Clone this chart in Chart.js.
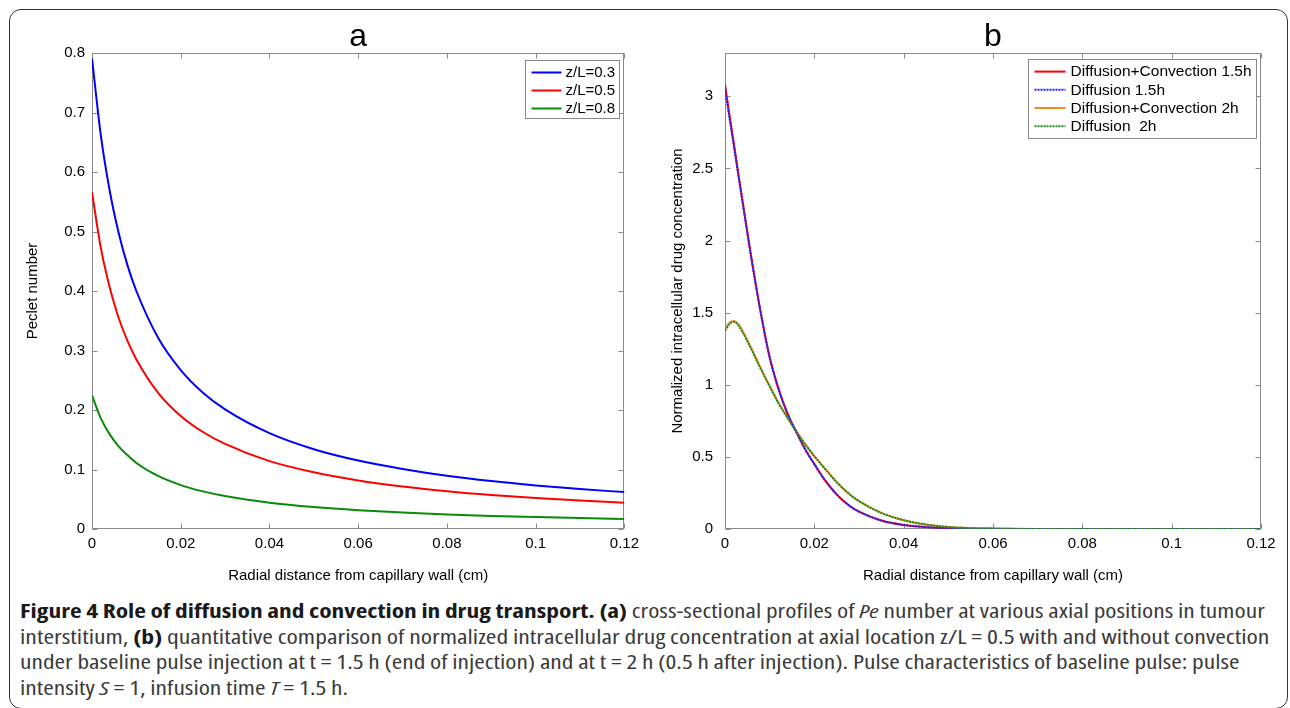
<!DOCTYPE html>
<html>
<head>
<meta charset="utf-8">
<script src="https://cdn.jsdelivr.net/npm/chart.js@4.4.0/dist/chart.umd.min.js"></script>
<style>
  html, body { margin:0; padding:0; background:#fff; }
  body { width:1290px; height:708px; position:relative; overflow:hidden; }
  #frame { position:absolute; left:9px; top:9px; width:1279px; height:700px; border:1.5px solid #333; border-radius:12px; box-sizing:border-box; }
  canvas { position:absolute; top:0; }
  #ca { left:0; }
  #cb { left:645px; }
  .cap { position:absolute; left:20px; white-space:nowrap; font-family:"Open Sans","Liberation Sans Narrow",sans-serif; font-stretch:75%; font-size:19px; line-height:26px; color:#3a3a3a; transform-origin:0 50%; }
  .cap b { color:#1a1a1a; }
</style>
</head>
<body>
<div id="frame"></div>
<canvas id="ca" width="645" height="595"></canvas>
<canvas id="cb" width="645" height="595"></canvas>
<div class="cap" id="l1" style="top:598px"><b>Figure 4 Role of diffusion and convection in drug transport. (a)</b> cross-sectional profiles of <i>Pe</i> number at various axial positions in tumour</div>
<div class="cap" id="l2" style="top:624px">interstitium, <b>(b)</b> quantitative comparison of normalized intracellular drug concentration at axial location z/L = 0.5 with and without convection</div>
<div class="cap" id="l3" style="top:649px">under baseline pulse injection at t = 1.5 h (end of injection) and at t = 2 h (0.5 h after injection). Pulse characteristics of baseline pulse: pulse</div>
<div class="cap" id="l4" style="top:675px">intensity <i>S</i> = 1, infusion time <i>T</i> = 1.5 h.</div>
<script>
// ---------- Data: panel a (Peclet number) ----------
const peX     = [0, 0.002, 0.004, 0.006, 0.008, 0.01, 0.015, 0.02, 0.025, 0.03, 0.04, 0.05, 0.06, 0.07, 0.08, 0.09, 0.1, 0.11, 0.12];
const peZ03   = [0.791, 0.661, 0.568, 0.498, 0.443, 0.400, 0.320, 0.267, 0.229, 0.201, 0.161, 0.134, 0.115, 0.101, 0.0895, 0.0805, 0.0732, 0.0671, 0.062];
const peZ05   = [0.566, 0.472, 0.406, 0.355, 0.316, 0.285, 0.228, 0.190, 0.163, 0.143, 0.114, 0.0953, 0.0817, 0.0715, 0.0636, 0.0572, 0.0520, 0.0477, 0.0440];
const peZ08   = [0.2245, 0.186, 0.159, 0.139, 0.124, 0.111, 0.0887, 0.0738, 0.0632, 0.0553, 0.0442, 0.0368, 0.0315, 0.0276, 0.0245, 0.0220, 0.0200, 0.0184, 0.0169];
const peLabels = ['z/L=0.3', 'z/L=0.5', 'z/L=0.8'];

// ---------- Data: panel b (normalized intracellular concentration) ----------
const concX   = [0, 0.001, 0.002, 0.003, 0.004, 0.006, 0.008, 0.01, 0.012, 0.014, 0.016, 0.018, 0.02, 0.022, 0.025, 0.028, 0.03, 0.035, 0.04, 0.045, 0.05, 0.055, 0.06, 0.07, 0.08, 0.09, 0.1, 0.11, 0.12];
const conv15  = [3.08, 2.87, 2.67, 2.46, 2.26, 1.86, 1.50, 1.19, 0.97, 0.80, 0.67, 0.55, 0.45, 0.355, 0.24, 0.158, 0.12, 0.059, 0.028, 0.013, 0.0055, 0.0022, 0.0009, 0.0001, 0, 0, 0, 0, 0];
const diff15  = [3.05, 2.85, 2.65, 2.45, 2.25, 1.86, 1.50, 1.19, 0.97, 0.80, 0.67, 0.55, 0.45, 0.355, 0.24, 0.158, 0.12, 0.059, 0.028, 0.013, 0.0055, 0.0022, 0.0009, 0.0001, 0, 0, 0, 0, 0];
const conv2   = [1.385, 1.43, 1.442, 1.42, 1.37, 1.245, 1.115, 0.99, 0.875, 0.772, 0.675, 0.585, 0.505, 0.432, 0.325, 0.238, 0.193, 0.112, 0.061, 0.031, 0.014, 0.006, 0.0022, 0.0003, 0, 0, 0, 0, 0];
const diff2   = [1.375, 1.42, 1.435, 1.41, 1.36, 1.24, 1.11, 0.99, 0.87, 0.77, 0.675, 0.585, 0.505, 0.432, 0.325, 0.238, 0.193, 0.112, 0.061, 0.031, 0.014, 0.006, 0.0022, 0.0003, 0, 0, 0, 0, 0];
const concLabels = ['Diffusion+Convection 1.5h', 'Diffusion 1.5h', 'Diffusion+Convection 2h', 'Diffusion  2h'];

// ---------- Ticks ----------
const xTicks  = [0, 0.02, 0.04, 0.06, 0.08, 0.1, 0.12];
const peTicks = [0, 0.1, 0.2, 0.3, 0.4, 0.5, 0.6, 0.7, 0.8];
const concTicks = [0, 0.5, 1, 1.5, 2, 2.5, 3];

const pts = (xs, ys) => xs.map((x, i) => ({x: x, y: ys[i]}));
const fmt = v => String(+(+v).toFixed(4));

const FONT = "'Liberation Sans', Arial, sans-serif";

const framePlugin = {
  id: 'matFrame',
  beforeDatasetsDraw(chart) {
    const {ctx, chartArea: a, scales} = chart;
    const L = 5;
    ctx.save();
    ctx.strokeStyle = '#8a8a8a';
    ctx.lineWidth = 1;
    const l = Math.round(a.left) + 0.5, r = Math.round(a.right) - 0.5;
    const t = Math.round(a.top) + 0.5, b = Math.round(a.bottom) - 0.5;
    ctx.strokeRect(l, t, r - l, b - t);
    ctx.beginPath();
    scales.x.ticks.forEach(tk => {
      const px = Math.round(scales.x.getPixelForValue(tk.value)) + 0.5;
      ctx.moveTo(px, b); ctx.lineTo(px, b - L);
      ctx.moveTo(px, t); ctx.lineTo(px, t + L);
    });
    scales.y.ticks.forEach(tk => {
      const py = Math.round(scales.y.getPixelForValue(tk.value)) + 0.5;
      ctx.moveTo(l, py); ctx.lineTo(l + L, py);
      ctx.moveTo(r, py); ctx.lineTo(r - L, py);
    });
    ctx.stroke();
    ctx.restore();
  }
};

const legendPlugin = {
  id: 'boxLegend',
  afterDatasetsDraw(chart, args, o) {
    const {ctx, chartArea: a} = chart;
    const ds = chart.data.datasets;
    ctx.save();
    ctx.font = o.font;
    const tw = Math.max(...ds.map(d => ctx.measureText(d.label).width));
    const w = Math.round(o.padL + o.sample + o.gap + tw + o.padR);
    const h = Math.round(o.padT + ds.length * o.row + o.padB);
    const x = Math.round(a.right - o.right - w) + 0.5;
    const y = Math.round(a.top + o.top) + 0.5;
    ctx.fillStyle = '#fff';
    ctx.fillRect(x, y, w, h);
    ctx.strokeStyle = '#8a8a8a';
    ctx.lineWidth = 1;
    ctx.strokeRect(x, y, w, h);
    ds.forEach((d, i) => {
      const cy = y + o.padT + o.row * (i + 0.5);
      ctx.beginPath();
      ctx.strokeStyle = d.borderColor;
      ctx.lineWidth = d.borderWidth;
      ctx.setLineDash(d.borderDash || []);
      ctx.moveTo(x + o.padL, cy);
      ctx.lineTo(x + o.padL + o.sample, cy);
      ctx.stroke();
      ctx.setLineDash([]);
      ctx.fillStyle = '#000';
      ctx.textBaseline = 'middle';
      ctx.textAlign = 'left';
      ctx.fillText(d.label, x + o.padL + o.sample + o.gap, cy + 0.5);
    });
    ctx.restore();
  }
};

function makeOptions(cfg) {
  return {
    responsive: false,
    animation: false,
    devicePixelRatio: 1,
    layout: { padding: { left: 0, right: cfg.padRight, top: 0, bottom: 0 } },
    plugins: {
      legend: { display: false },
      tooltip: { enabled: false },
      title: {
        display: true, text: cfg.title, fullSize: false, color: '#000',
        font: { family: FONT, size: 32, weight: 'normal', lineHeight: 1 },
        padding: { top: 21, bottom: 0 }
      },
      boxLegend: cfg.legend
    },
    scales: {
      x: {
        type: 'linear', min: 0, max: 0.12,
        afterFit: s => { s.height = 66; },
        afterBuildTicks: s => { s.ticks = xTicks.map(v => ({ value: v })); },
        grid: { display: false, drawTicks: false },
        border: { display: false },
        ticks: { color: '#000', padding: 6, maxRotation: 0, autoSkip: false, font: { family: FONT, size: 15 }, callback: fmt },
        title: { display: true, text: 'Radial distance from capillary wall (cm)', color: '#000',
                 font: { family: FONT, size: 15, lineHeight: 1.2 }, padding: { top: 0, bottom: 10 } }
      },
      y: {
        type: 'linear', min: 0, max: cfg.ymax,
        afterFit: s => { s.width = cfg.yWidth; },
        afterBuildTicks: s => { s.ticks = cfg.yTicks.map(v => ({ value: v })); },
        grid: { display: false, drawTicks: false },
        border: { display: false },
        ticks: { color: '#000', padding: cfg.yPad, autoSkip: false, font: { family: FONT, size: 15 }, callback: fmt },
        title: { display: true, text: cfg.yTitle, color: '#000',
                 font: { family: FONT, size: 15, lineHeight: 1.2 }, padding: { top: 24, bottom: 0 } }
      }
    }
  };
}

const lineBase = { pointRadius: 0, borderWidth: 2, fill: false, cubicInterpolationMode: 'monotone' };

new Chart(document.getElementById('ca'), {
  type: 'line',
  data: {
    datasets: [
      Object.assign({ label: peLabels[0], data: pts(peX, peZ03), borderColor: '#0000ff' }, lineBase),
      Object.assign({ label: peLabels[1], data: pts(peX, peZ05), borderColor: '#ff0000' }, lineBase),
      Object.assign({ label: peLabels[2], data: pts(peX, peZ08), borderColor: '#0a8a0a' }, lineBase)
    ]
  },
  options: makeOptions({
    title: 'a', padRight: 18, ymax: 0.8, yWidth: 92, yPad: 7, yTicks: peTicks, yTitle: 'Peclet number',
    legend: { font: "15px " + FONT, padL: 6, sample: 30, gap: 4, padR: 4, padT: 3, padB: 1, row: 18, right: 5, top: 7 }
  }),
  plugins: [framePlugin, legendPlugin]
});

new Chart(document.getElementById('cb'), {
  type: 'line',
  data: {
    datasets: [
      Object.assign({ label: concLabels[0], data: pts(concX, conv15), borderColor: '#ff0000', order: 4 }, lineBase),
      Object.assign({ label: concLabels[1], data: pts(concX, diff15), borderColor: '#2020ff', borderDash: [2, 1], order: 2 }, lineBase),
      Object.assign({ label: concLabels[2], data: pts(concX, conv2), borderColor: '#f08a1c', order: 3 }, lineBase),
      Object.assign({ label: concLabels[3], data: pts(concX, diff2), borderColor: '#1e8c1e', borderDash: [2, 1], order: 1 }, lineBase)
    ]
  },
  options: makeOptions({
    title: 'b', padRight: 29, ymax: 3.3, yWidth: 80, yPad: 12, yTicks: concTicks, yTitle: 'Normalized intracellular drug concentration',
    legend: { font: "15.5px " + FONT, padL: 6, sample: 31, gap: 5, padR: 5, padT: 3, padB: 3, row: 18.2, right: 5, top: 6 }
  }),
  plugins: [framePlugin, legendPlugin]
});

// fit caption lines to the reference line widths
const capTargets = { l1: 1245, l2: 1250, l3: 1220, l4: 328 };
Object.keys(capTargets).forEach(id => {
  const el = document.getElementById(id);
  el.style.transform = 'scaleX(' + (capTargets[id] / el.scrollWidth) + ')';
});
</script>
</body>
</html>
